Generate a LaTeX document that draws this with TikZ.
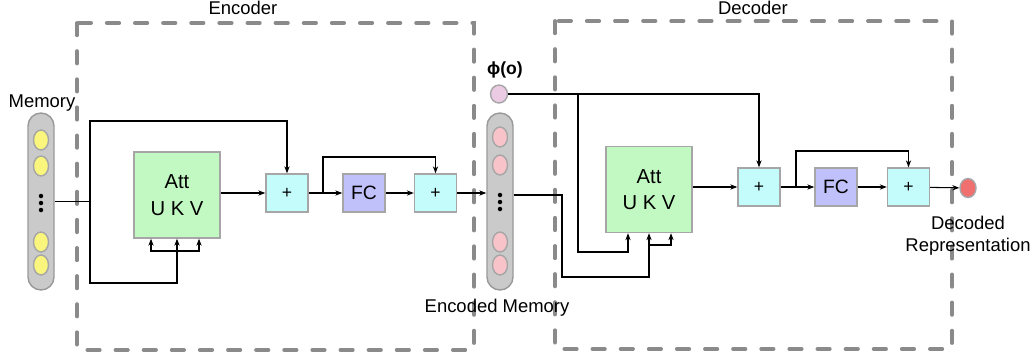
\documentclass[tikz,border=0pt]{standalone}
\usepackage{fontspec}
\setmainfont{Liberation Sans}
\usepackage{tikz}
\usetikzlibrary{positioning,shapes.geometric,arrows.meta,calc}

\definecolor{attgreen}{HTML}{C2F8C2}
\definecolor{addcyan}{HTML}{C4FCFC}
\definecolor{fcblue}{HTML}{C0C0FA}
\definecolor{colgray}{HTML}{CACACA}
\definecolor{memyellow}{HTML}{FAF57C}
\definecolor{encpink}{HTML}{F9C3CA}
\definecolor{phipink}{HTML}{EBCBE3}
\definecolor{outred}{HTML}{F07070}
\definecolor{dashgray}{HTML}{8A8A8A}

\begin{document}
\begin{tikzpicture}[
    >={Stealth[length=4pt,width=3pt]},
    font=\fontsize{10.5}{12.5}\selectfont,
    line width=0.6pt,
    att/.style={
        draw=black!35,
        line width=0.8pt,
        minimum width=1.72cm,
        minimum height=1.72cm,
        align=center,
        fill=attgreen,
        font=\fontsize{11.5}{15}\selectfont
    },
    add/.style={
        draw=black!35,
        line width=0.8pt,
        minimum width=0.84cm,
        minimum height=0.76cm,
        fill=addcyan,
        font=\fontsize{10}{11}\selectfont
    },
    fc/.style={
        draw=black!35,
        line width=0.8pt,
        minimum width=0.84cm,
        minimum height=0.76cm,
        fill=fcblue,
        font=\fontsize{11}{12}\selectfont
    },
    column/.style={
        draw=black!40,
        line width=0.8pt,
        fill=colgray,
        rounded corners=0.26cm,
        minimum width=0.52cm,
        minimum height=3.54cm
    },
    cell/.style={
        ellipse,
        draw=black!35,
        line width=0.8pt,
        inner sep=0pt,
        minimum width=0.3cm,
        minimum height=0.4cm
    },
    block/.style={
        draw=dashgray,
        line width=2.2pt,
        line cap=round,
        dash pattern=on 7pt off 9pt
    },
    arr/.style={->}
]
\useasboundingbox (0,0) rectangle (20.7,-7.12);

% encoder / decoder frames
\draw[block] (1.54,-0.46) rectangle (9.48,-7.0);
\draw[block] (11.1,-0.42) rectangle (19.04,-6.98);
\node (enctitle) at (4.86,-0.16) {Encoder};
\node (dectitle) at (15.06,-0.16) {Decoder};

% memory column
\node[column] (mem) at (0.82,-4.03) {};
\foreach \y [count=\i] in {-2.8,-3.32,-4.84,-5.3}
    \node[cell, fill=memyellow] (m\i) at (0.82,\y) {};
\foreach \y in {-3.92,-4.06,-4.2}
    \fill (0.82,\y) circle (0.045);
\node (memlabel) at (0.84,-2.06) {Memory};

% encoder
\node[att] (att1) at (3.54,-3.9) {Att\\U K V};
\node[add] (add1) at (5.74,-3.86) {+};
\node[fc] (fc1) at (7.28,-3.86) {FC};
\node[add] (add2) at (8.71,-3.86) {+};

% encoded memory column
\node[column] (enc) at (10.0,-4.03) {};
\foreach \y [count=\i] in {-2.74,-3.3,-4.84,-5.3}
    \node[cell, fill=encpink] (e\i) at (10.0,\y) {};
\foreach \y in {-3.9,-4.04,-4.18}
    \fill (10.0,\y) circle (0.045);
\node (enclabel) at (9.94,-6.16) {Encoded Memory};

\node[cell, fill=phipink, minimum width=0.34cm, minimum height=0.36cm] (phi) at (9.98,-1.88) {};
\node[font=\fontsize{10}{12}\selectfont\bfseries] (philabel) at (10.1,-1.4) {ϕ(o)};

% decoder
\node[att] (att2) at (12.98,-3.79) {Att\\U K V};
\node[add] (add3) at (15.18,-3.74) {+};
\node[fc] (fc2) at (16.72,-3.74) {FC};
\node[add] (add4) at (18.17,-3.74) {+};
\node[cell, fill=outred, minimum width=0.32cm, minimum height=0.38cm] (out) at (19.36,-3.76) {};
\node[align=center] (outlabel) at (19.36,-4.72) {Decoded\\Representation};

% encoder wiring
\coordinate (j1) at (1.8,-4.03);
\coordinate (top1) at (1.8,-2.42);
\coordinate (bot1) at (3.54,-5.66);
\coordinate (fork1) at (3.54,-5.02);
\draw (mem.east) -- (j1);
\draw[arr] (j1) -- (top1) -| (add1.north);
\draw (j1) |- (bot1) -- (fork1);
\draw[arr] (fork1) -- (att1.south);
\draw[arr] (fork1) -| ([xshift=-0.52cm]att1.south);
\draw[arr] (fork1) -| ([xshift=0.44cm]att1.south);
\draw[arr] (att1.east |- add1) -- (add1.west);
\draw[arr] (add1) -- (fc1);
\coordinate (j2) at (6.46,-3.86);
\draw[arr] (j2) -- ++(0,0.72) -| (add2.north);
\draw[arr] (fc1) -- (add2);
\draw[arr] (add2) -- (add2 -| enc.west);

% decoder wiring
\coordinate (j3) at (11.24,-3.9);
\coordinate (bot2) at (12.98,-5.54);
\coordinate (fork2) at (12.98,-4.9);
\draw (enc.east |- j3) -- (j3) |- (bot2) -- (fork2);
\draw[arr] (fork2) -- (att2.south);
\draw[arr] (fork2) -| ([xshift=0.44cm]att2.south);
\coordinate (j4) at (11.56,-1.88);
\coordinate (bot3) at (12.56,-5.04);
\draw[arr] (phi) -| (add3.north);
\draw[arr] (j4) |- (bot3) -- (bot3 |- att2.south);
\draw[arr] (att2.east |- add3) -- (add3.west);
\draw[arr] (add3) -- (fc2);
\coordinate (j5) at (15.92,-3.74);
\draw[arr] (j5) -- ++(0,0.72) -| (add4.north);
\draw[arr] (fc2) -- (add4);
\draw[arr] (add4) -- (out);

\end{tikzpicture}
\end{document}
